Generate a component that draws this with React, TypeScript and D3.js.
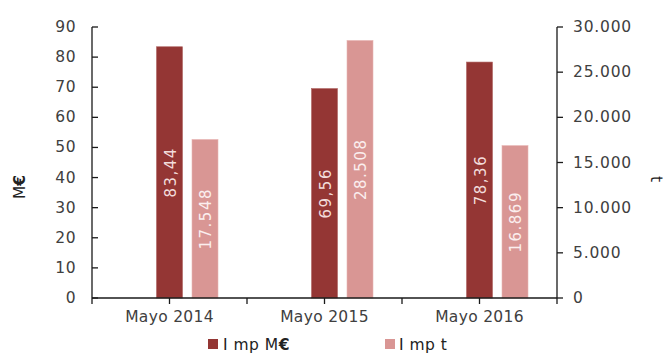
import React from "react";
import * as d3 from "d3";

const categories = ["Mayo 2014", "Mayo 2015", "Mayo 2016"];
const impM = [83.44, 69.56, 78.36];
const impT = [17548, 28508, 16869];
const leftTicks = [0, 10, 20, 30, 40, 50, 60, 70, 80, 90];
const rightTicks = [0, 5000, 10000, 15000, 20000, 25000, 30000];

const W = 664, H = 354;
const x0 = 92, x1 = 557, yTop = 27, yBot = 298;
const DARK = "#943634";
const LIGHT = "#d99694";
const TXT = "#404040";
const AX = "#1a1a1a";
const FONT = "'DejaVu Sans', sans-serif";

const fmtM = (v: number) => v.toFixed(2).replace(".", ",");
const fmtT = (v: number) => d3.format(",")(v).replace(/,/g, ".");

export default function App() {
  const yL = d3.scaleLinear().domain([0, 90]).range([yBot, yTop]);
  const yR = d3.scaleLinear().domain([0, 30000]).range([yBot, yTop]);
  const xb = d3.scaleBand().domain(categories).range([x0, x1]);
  const bw = xb.bandwidth();
  const barW = 26;
  const offLight = 35.5;
  const center = (c: string) => (xb(c) as number) + bw / 2;
  const halfTicks = d3.range(0, 7).map((i) => x0 + (i * bw) / 2);

  return (
    <svg width={W} height={H} style={{ position: "absolute", left: 0, top: 0 }} fontFamily={FONT}>
      <rect width={W} height={H} fill="#fff" />
      {categories.map((c, i) => {
        const cx = center(c);
        const yd = yL(impM[i]);
        const yl = yR(impT[i]);
        return (
          <g key={c}>
            <rect x={cx - barW / 2} y={yd} width={barW} height={yBot - yd} fill={DARK} stroke="#b06462" strokeWidth={0.6} />
            <rect x={cx + offLight - barW / 2} y={yl} width={barW} height={yBot - yl} fill={LIGHT} stroke="#e8b5b3" strokeWidth={0.6} />
            <text
              transform={`translate(${cx + 1},${(yd + yBot) / 2}) rotate(-90)`}
              textAnchor="middle"
              dominantBaseline="central"
              fill="#f2dcdb"
              fontSize={15}
              letterSpacing={1.5}
            >
              {fmtM(impM[i])}
            </text>
            <text
              transform={`translate(${cx + offLight + 1},${(yl + yBot) / 2}) rotate(-90)`}
              textAnchor="middle"
              dominantBaseline="central"
              fill="#fbeeee"
              fontSize={15}
              letterSpacing={1.5}
            >
              {fmtT(impT[i])}
            </text>
          </g>
        );
      })}
      <line x1={x0} x2={x0} y1={yTop} y2={yBot} stroke={AX} strokeWidth={1.3} />
      {leftTicks.map((t) => (
        <g key={"l" + t}>
          <line x1={x0} x2={x0 + 6} y1={yL(t)} y2={yL(t)} stroke={AX} strokeWidth={1.3} />
          <text x={76} y={yL(t)} textAnchor="end" dominantBaseline="central" fill={TXT} fontSize={15.5} letterSpacing={0.5}>
            {t}
          </text>
        </g>
      ))}
      <line x1={x1} x2={x1} y1={yTop} y2={yBot} stroke={AX} strokeWidth={1.3} />
      {rightTicks.map((t) => (
        <g key={"r" + t}>
          <line x1={x1} x2={x1 + 6} y1={yR(t)} y2={yR(t)} stroke={AX} strokeWidth={1.3} />
          <text x={573} y={yR(t)} textAnchor="start" dominantBaseline="central" fill={TXT} fontSize={15.5} letterSpacing={0.8}>
            {fmtT(t)}
          </text>
        </g>
      ))}
      <line x1={x0} x2={x1} y1={yBot} y2={yBot} stroke={AX} strokeWidth={1.3} />
      {halfTicks.map((x, i) => (
        <line key={"b" + i} x1={x} x2={x} y1={yBot} y2={yBot + 6} stroke={AX} strokeWidth={1.3} />
      ))}
      {categories.map((c) => (
        <text key={"c" + c} x={center(c)} y={317} textAnchor="middle" dominantBaseline="central" fill={TXT} fontSize={15.5} letterSpacing={0.3}>
          {c}
        </text>
      ))}
      <text transform={`translate(20,187) rotate(-90)`} textAnchor="middle" dominantBaseline="central" fill="#222" fontSize={15.5}>
        M<tspan fontWeight="bold">€</tspan>
      </text>
      <text transform={`translate(656,179) rotate(90)`} textAnchor="middle" dominantBaseline="central" fill="#222" fontSize={15.5}>
        t
      </text>
      <rect x={208} y={339} width={10} height={10} fill={DARK} />
      <text x={223} y={345} dominantBaseline="central" fill="#222" fontSize={15.5} letterSpacing={0.5}>
        I mp M<tspan fontWeight="bold">€</tspan>
      </text>
      <rect x={385} y={339} width={10} height={10} fill={LIGHT} />
      <text x={399} y={345} dominantBaseline="central" fill="#222" fontSize={15.5} letterSpacing={0.5}>
        I mp t
      </text>
    </svg>
  );
}
